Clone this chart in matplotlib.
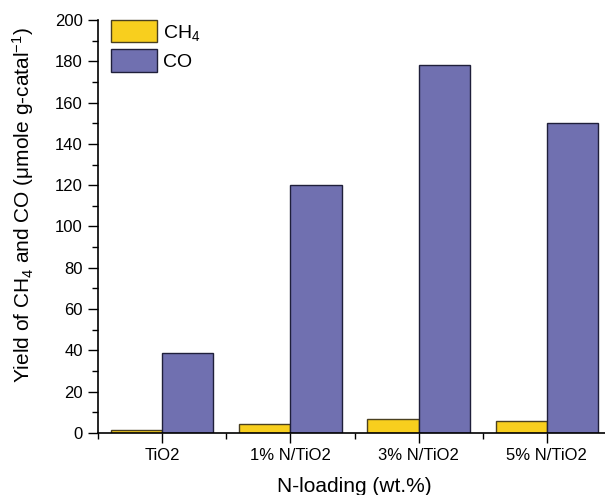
import matplotlib
matplotlib.use("Agg")
import matplotlib.pyplot as plt
import numpy as np
from matplotlib.ticker import MultipleLocator

plt.rcParams['font.family'] = ['Liberation Sans', 'DejaVu Sans']
plt.rcParams['mathtext.fontset'] = 'custom'
plt.rcParams['mathtext.rm'] = 'Liberation Sans'
plt.rcParams['mathtext.it'] = 'Liberation Sans'

categories = ["TiO2", "1% N/TiO2", "3% N/TiO2", "5% N/TiO2"]
ch4 = [1.3, 4.6, 6.9, 5.7]
co = [38.5, 120, 178, 150]

fig = plt.figure(figsize=(6.05, 4.95), dpi=100)
ax = fig.add_axes([98/605, 62/495, 513/605, 413/495])

x = np.arange(len(categories))
w = 0.4
ax.bar(x - w/2, ch4, w, color='#F8CF1E', edgecolor='#4a4020', linewidth=1.0, label='CH$_4$')
ax.bar(x + w/2, co, w, color='#7070B0', edgecolor='#1f1f3a', linewidth=1.0, label='CO')

ax.set_xlim(-0.5, 3.5)
ax.set_ylim(0, 200)
ax.set_xticks(x)
ax.set_xticklabels(categories)
ax.set_xticks(np.arange(-0.5, 3.6, 1), minor=True)
ax.yaxis.set_major_locator(MultipleLocator(20))
ax.yaxis.set_minor_locator(MultipleLocator(10))
ax.tick_params(axis='both', which='major', direction='out', length=7, width=1, labelsize=12, colors='black', pad=4)
ax.tick_params(axis='both', which='minor', direction='out', length=4, width=1)
for s in ['top', 'right']:
    ax.spines[s].set_visible(False)
for s in ['left', 'bottom']:
    ax.spines[s].set_linewidth(1.2)

ax.set_xlabel('N-loading (wt.%)', fontsize=15, labelpad=10)
ax.set_ylabel('Yield of CH$_4$ and CO (μmole g-catal$^{-1}$)', fontsize=15)
ax.yaxis.set_label_coords(-0.121, 0.552)

leg = ax.legend(loc='upper left', bbox_to_anchor=(0.025, 1.0), frameon=False,
                fontsize=14, handlelength=2.4, handleheight=1.4, handletextpad=0.3,
                labelspacing=0.35, borderaxespad=0, borderpad=0)

fig.savefig('out.png', dpi=100)
